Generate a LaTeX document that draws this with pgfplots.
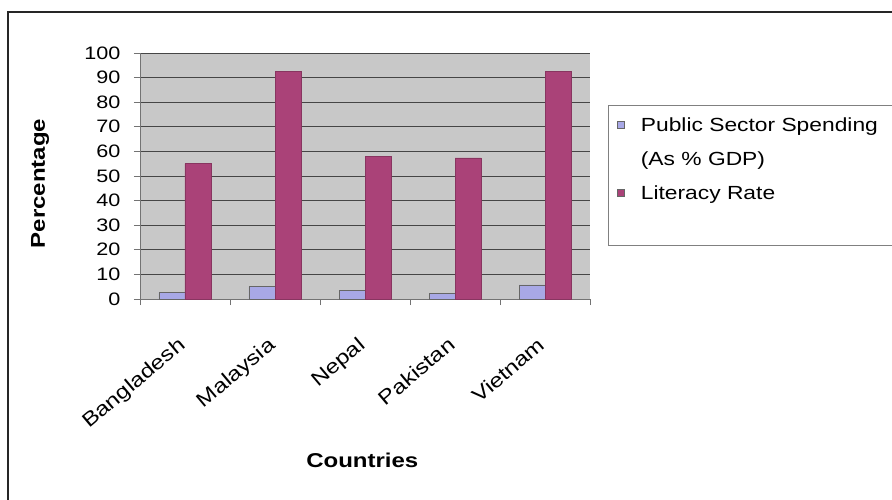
\documentclass[border=0pt]{standalone}
\usepackage{pgfplots}
\pgfplotsset{compat=1.18}
\usepackage{fontspec}
\setmainfont[FakeStretch=1.2]{Liberation Sans}
\definecolor{plotbg}{RGB}{200,200,200}
\definecolor{barblue}{RGB}{168,168,230}
\definecolor{barmag}{RGB}{170,66,120}
\definecolor{gridc}{RGB}{70,70,70}
\pgfplotsset{sqlegend/.style={legend image code/.code={\draw[##1,draw=black!60,line width=0.5pt] (0pt,-3.5pt) rectangle (7pt,3.5pt);}}}
\begin{document}
\begin{tikzpicture}[x=1pt,y=1pt]
\path[use as bounding box] (0,0) rectangle (892,499);
\fill[white] (0,0) rectangle (892,499);
\draw[line width=2pt, black!85] (8,-5) -- (8,487) -- (900,487);
\begin{axis}[
  at={(140pt,200pt)}, anchor=south west,
  scale only axis, width=450pt, height=246pt,
  xmin=-0.5, xmax=4.5, ymin=0, ymax=100,
  axis background/.style={fill=plotbg},
  axis lines*=left,
  axis line style={-, draw=black!55, line width=0.8pt},
  tick align=outside, major tick length=6pt,
  tick style={draw=black!55, line width=0.8pt},
  ytick={0,10,...,100},
  ymajorgrids,
  major grid style={gridc, line width=0.8pt},
  xtick={-0.5,0.5,...,4.5}, xticklabels={},
  extra x ticks={0,1,2,3,4},
  extra x tick labels={Bangladesh,Malaysia,Nepal,Pakistan,Vietnam},
  extra x tick style={major tick length=0pt, grid=none},
  /pgf/number format/assume math mode=true,
  y tick label style={font=\fontsize{18pt}{20pt}\selectfont, xshift=-10pt},
  x tick label style={font=\fontsize{20pt}{22pt}\selectfont, inner sep=0pt, xshift=-8pt, yshift=-37pt, rotate=40, anchor=north east},
  ylabel={Percentage},
  ylabel style={at={(axis description cs:-0.222,0.47)}, anchor=center, font=\bfseries\fontsize{20pt}{24pt}\selectfont},
  xlabel={Countries},
  xlabel style={at={(axis description cs:0.494,-0.654)}, anchor=center, font=\bfseries\fontsize{20pt}{24pt}\selectfont},
  legend cell align=left,
  legend style={at={(axis description cs:1.04,0.7886)}, anchor=north west,
    draw=black!50, line width=0.8pt, fill=white,
    inner xsep=9pt, inner ysep=2pt, row sep=0pt, column sep=16pt,
    font=\fontsize{19pt}{22pt}\selectfont,
    nodes={inner sep=0pt, text height=24pt, text depth=10pt, text width=270pt, anchor=west}},
]
\addplot[ybar, bar width=26pt, bar shift=-13pt, fill=barblue, draw=black!60, line width=0.5pt, sqlegend]
  coordinates {(0,2.6) (1,5.0) (2,3.4) (3,2.3) (4,5.7)};
\addlegendentry{Public Sector Spending}
\addlegendimage{empty legend}
\addlegendentry{(As \% GDP)}
\addplot[ybar, bar width=26pt, bar shift=13pt, fill=barmag, draw=barmag!80!black, line width=0.5pt, sqlegend]
  coordinates {(0,55.0) (1,92.4) (2,58.1) (3,57.4) (4,92.4)};
\addlegendentry{Literacy Rate}
\addlegendimage{empty legend}
\addlegendentry{}
\end{axis}
\end{tikzpicture}
\end{document}
